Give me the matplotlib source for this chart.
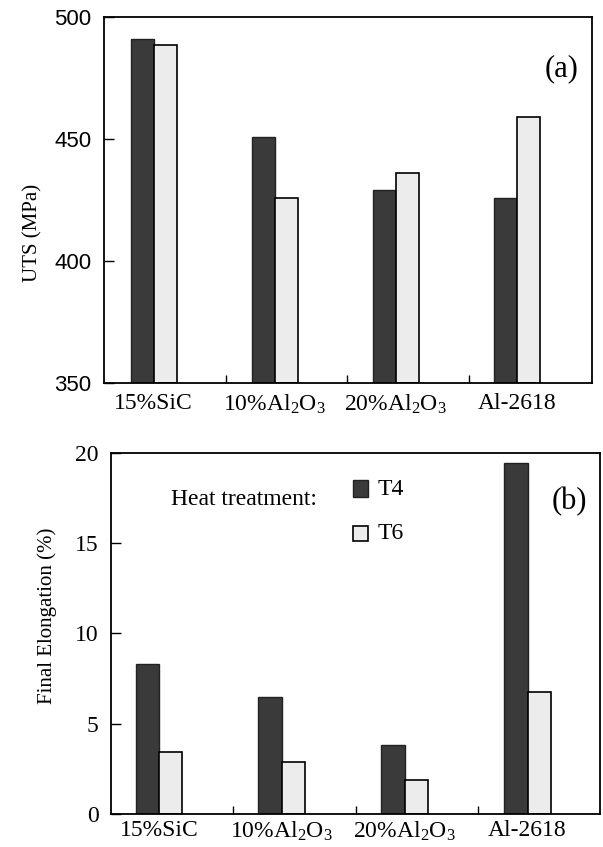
import numpy as np
import matplotlib
matplotlib.use('Agg')
import matplotlib.pyplot as plt
from matplotlib.patches import Rectangle

plt.rcParams['font.family'] = 'Liberation Serif'
plt.rcParams['mathtext.default'] = 'regular'

materials = ['15%SiC', '10%Al$_2$O$_3$', '20%Al$_2$O$_3$', 'Al-2618']
uts_t4 = [491, 451, 429, 426]
uts_t6 = [488.5, 426, 436, 459]
elong_t4 = [8.3, 6.5, 3.8, 19.45]
elong_t6 = [3.45, 2.9, 1.9, 6.75]

dark = '#3a3a3a'
light = '#ececec'
w = 0.19

fig = plt.figure(figsize=(6.03, 8.47), dpi=100)
ax1 = fig.add_axes([0.1725, 0.5478, 0.8093, 0.4321])
ax2 = fig.add_axes([0.1841, 0.0390, 0.811, 0.4262])

x = np.arange(len(materials))


def style(ax, xlim, pad):
    ax.set_xlim(*xlim)
    ax.set_xticks(x)
    ax.set_xticklabels(materials, fontsize=17)
    ax.tick_params(axis='x', which='major', length=0, pad=pad)
    ax.set_xticks(x[:-1] + 0.6, minor=True)
    ax.tick_params(axis='x', which='minor', direction='in', length=6, width=1)
    ax.tick_params(axis='y', direction='in', length=7, width=1, pad=9)
    for s in ax.spines.values():
        s.set_linewidth(1.3)


# (a) UTS
ax1.bar(x - w / 2, np.array(uts_t4) - 350, w, bottom=350, color=dark, edgecolor='#222222', linewidth=1)
ax1.bar(x + w / 2, np.array(uts_t6) - 350, w, bottom=350, color=light, edgecolor='black', linewidth=1.2)
ax1.set_ylim(350, 500)
ax1.set_yticks([350, 400, 450, 500])
style(ax1, (-0.41, 3.62), 7)
for lb in ax1.get_yticklabels():
    lb.set_family('Liberation Sans')
    lb.set_fontsize(16)
ax1.set_ylabel('UTS (MPa)', fontsize=15)
ax1.yaxis.set_label_coords(-0.127, 0.41)
ax1.text(0.972, 0.86, '(a)', transform=ax1.transAxes, fontsize=22, ha='right', va='center')

# (b) elongation
ax2.bar(x - w / 2, elong_t4, w, color=dark, edgecolor='#222222', linewidth=1)
ax2.bar(x + w / 2, elong_t6, w, color=light, edgecolor='black', linewidth=1.2)
ax2.set_ylim(0, 20)
ax2.set_yticks([0, 5, 10, 15, 20])
style(ax2, (-0.39, 3.59), 4)
for lb in ax2.get_yticklabels():
    lb.set_fontsize(17)
ax2.set_ylabel('Final Elongation (%)', fontsize=15)
ax2.yaxis.set_label_coords(-0.11, 0.55)
ax2.text(0.973, 0.865, '(b)', transform=ax2.transAxes, fontsize=22, ha='right', va='center')

# legend
ax2.text(0.42, 0.87, 'Heat treatment:', transform=ax2.transAxes, fontsize=17, ha='right', va='center')
ax2.add_patch(Rectangle((0.495, 0.878), 0.03, 0.048, transform=ax2.transAxes, facecolor=dark, edgecolor='#222222', lw=1))
ax2.add_patch(Rectangle((0.495, 0.755), 0.03, 0.044, transform=ax2.transAxes, facecolor=light, edgecolor='black', lw=1.2))
ax2.text(0.545, 0.9, 'T4', transform=ax2.transAxes, fontsize=17, va='center')
ax2.text(0.545, 0.776, 'T6', transform=ax2.transAxes, fontsize=17, va='center')

fig.savefig('out.png', dpi=100)
